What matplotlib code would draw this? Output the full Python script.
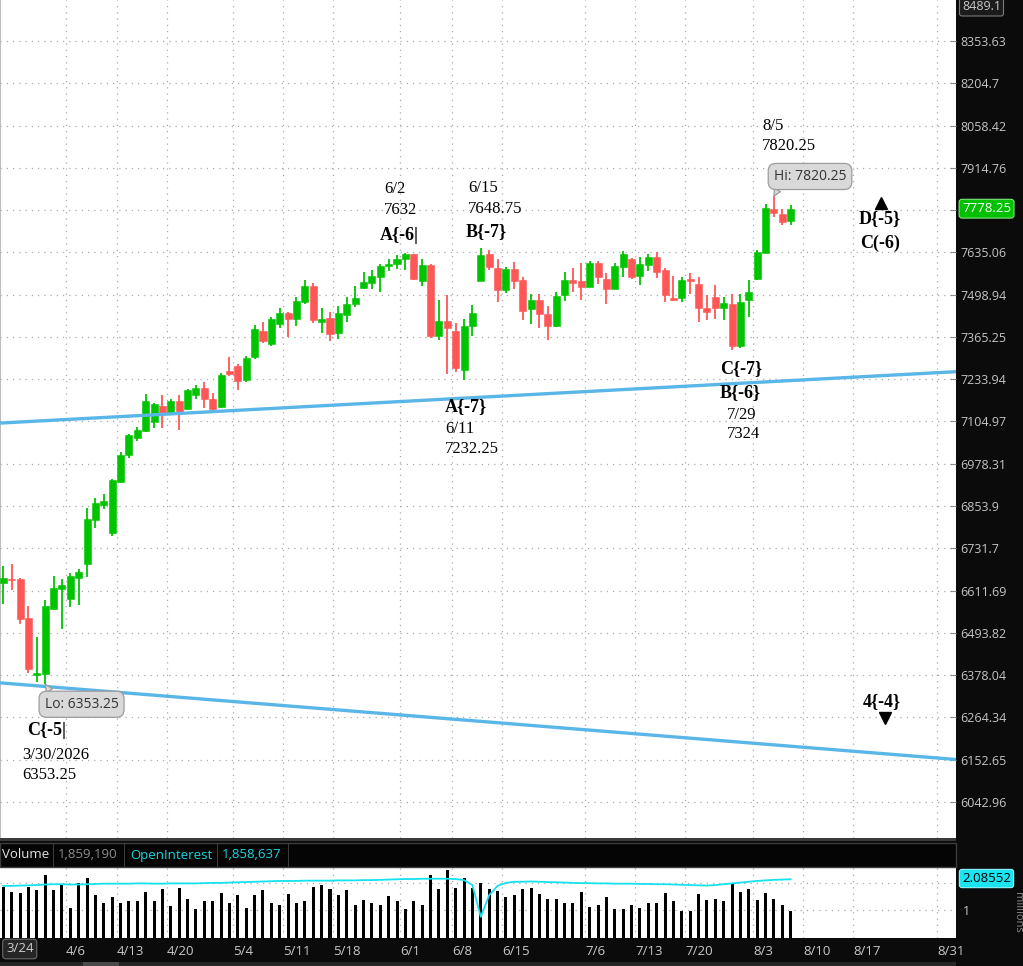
import numpy as np
import matplotlib
matplotlib.use('Agg')
import matplotlib.pyplot as plt
from matplotlib.patches import Rectangle
from matplotlib.ticker import FixedLocator, FixedFormatter, NullLocator

plt.rcParams['font.family'] = ['Open Sans', 'DejaVu Sans']

# daily candles (bar 0 = left edge)
opens = [6634, 6645, 6643, 6535, 6378, 6381, 6559, 6617, 6587, 6647,
         6687, 6812, 6858, 6776, 6924, 7003, 7056, 7076, 7103, 7152,
         7130, 7166, 7144, 7186, 7208, 7174, 7149, 7259, 7276, 7231,
         7301, 7383, 7342, 7407, 7439, 7421, 7476, 7527, 7411, 7426,
         7379, 7434, 7468, 7520, 7537, 7556, 7590, 7597, 7613, 7630,
         7543, 7594, 7368, 7416, 7383, 7262, 7399, 7543, 7629, 7583,
         7513, 7580, 7545, 7452, 7481, 7436, 7399, 7497, 7545, 7542,
         7524, 7599, 7548, 7518, 7588, 7612, 7559, 7594, 7619, 7578,
         7488, 7487, 7548, 7534, 7455, 7491, 7455, 7469, 7337, 7483,
         7548, 7634, 7776, 7760, 7739]
highs = [6680, 6687, 6646, 6568, 6482, 6584, 6652, 6645, 6662, 6673,
         6849, 6878, 6890, 6933, 7013, 7068, 7088, 7189, 7161, 7184,
         7174, 7184, 7205, 7215, 7226, 7191, 7254, 7303, 7281, 7305,
         7402, 7412, 7428, 7457, 7444, 7490, 7545, 7535, 7456, 7444,
         7462, 7492, 7527, 7573, 7578, 7597, 7615, 7628, 7632, 7631,
         7615, 7596, 7481, 7497, 7409, 7423, 7465, 7648.75, 7642, 7615,
         7588, 7603, 7554, 7500, 7500, 7462, 7508, 7573, 7583, 7601,
         7606, 7607, 7569, 7599, 7639, 7618, 7619, 7630, 7637, 7583,
         7558, 7556, 7569, 7554, 7499, 7531, 7490, 7502, 7502, 7545,
         7642, 7793, 7820.25, 7776, 7792]
lows = [6573, 6614, 6517, 6384, 6359, 6353.25, 6556, 6505, 6565, 6570,
        6650, 6791, 6846, 6766, 6921, 6994, 7045, 7072, 7086, 7086,
        7126, 7078, 7141, 7172, 7147, 7141, 7147, 7243, 7202, 7225,
        7295, 7347, 7338, 7392, 7365, 7399, 7468, 7409, 7376, 7353,
        7358, 7411, 7460, 7518, 7516, 7508, 7576, 7580, 7578, 7545,
        7527, 7362, 7357, 7249, 7256, 7232.25, 7368, 7541, 7578, 7474,
        7505, 7516, 7418, 7405, 7392, 7357, 7397, 7479, 7506, 7481,
        7522, 7532, 7470, 7516, 7556, 7548, 7531, 7576, 7551, 7474,
        7479, 7474, 7502, 7413, 7418, 7423, 7418, 7324, 7331, 7428,
        7545, 7632, 7752, 7726, 7726]
closes = [6647, 6640, 6533, 6395, 6384, 6568, 6620, 6626, 6652, 6664,
          6817, 6864, 6867, 6931, 7003, 7063, 7080, 7167, 7157, 7129,
          7167, 7133, 7200, 7208, 7174, 7144, 7248, 7249, 7229, 7300,
          7389, 7353, 7423, 7439, 7421, 7479, 7527, 7418, 7423, 7373,
          7439, 7469, 7489, 7538, 7558, 7591, 7597, 7612, 7629, 7548,
          7594, 7368, 7416, 7392, 7267, 7400, 7439, 7626, 7586, 7513,
          7580, 7543, 7448, 7481, 7437, 7399, 7495, 7545, 7537, 7524,
          7599, 7556, 7516, 7591, 7631, 7554, 7596, 7619, 7573, 7497,
          7481, 7545, 7543, 7455, 7444, 7455, 7473, 7336, 7476, 7508,
          7635, 7779, 7763, 7735, 7778.25]

# volume and open interest, millions
volume = [1.85, 1.67, 1.64, 1.85, 1.73, 2.28, 1.73, 1.92, 1.07, 1.98,
          2.16, 1.55, 1.25, 1.49, 1.25, 1.33, 1.33, 1.67, 1.33, 1.77,
          1.15, 1.82, 1.41, 1.03, 1.33, 1.33, 1.64, 1.25, 1.55, 1.07,
          1.55, 1.73, 1.25, 1.19, 1.59, 1.25, 1.33, 1.85, 1.94, 1.77,
          1.55, 1.73, 1.19, 1.37, 1.25, 1.19, 1.52, 1.33, 1.03, 1.33,
          1.19, 2.28, 1.77, 2.46, 1.82, 2.19, 1.82, 2.01, 1.77, 1.71,
          1.47, 1.55, 1.77, 1.82, 1.59, 1.41, 1.41, 1.25, 1.28, 1.67,
          1.13, 1.19, 1.47, 1.03, 1.03, 1.19, 1.07, 1.25, 1.25, 1.64,
          1.33, 0.98, 0.98, 1.59, 1.37, 1.41, 1.33, 1.95, 1.67, 1.77,
          1.37, 1.64, 1.41, 1.19, 0.98]
open_interest = [1.89, 1.89, 1.90, 1.91, 1.92, 1.94, 1.95, 1.95, 1.94, 1.94,
                 1.95, 1.96, 1.97, 1.97, 1.97, 1.97, 1.98, 1.98, 1.97, 1.97,
                 1.98, 1.98, 1.98, 1.98, 1.99, 2.00, 2.00, 2.01, 2.02, 2.03,
                 2.04, 2.05, 2.06, 2.07, 2.07, 2.07, 2.08, 2.08, 2.08, 2.08,
                 2.09, 2.09, 2.09, 2.10, 2.10, 2.11, 2.12, 2.13, 2.14, 2.14,
                 2.15, 2.15, 2.15, 2.15, 2.14, 2.10, 1.92, 0.76, 1.55, 1.89,
                 2.00, 2.04, 2.04, 2.05, 2.04, 2.03, 2.02, 2.01, 2.00, 1.99,
                 1.99, 1.98, 1.98, 1.97, 1.97, 1.97, 1.96, 1.96, 1.95, 1.95,
                 1.94, 1.93, 1.92, 1.91, 1.90, 1.92, 1.95, 1.98, 2.01, 2.04,
                 2.07, 2.09, 2.11, 2.12, 2.13]

price_ticks = [8353.63, 8204.7, 8058.42, 7914.76, 7773.6, 7635.06, 7498.94,
               7365.25, 7233.94, 7104.97, 6978.31, 6853.9, 6731.7, 6611.69,
               6493.82, 6378.04, 6264.34, 6152.65, 6042.96]
price_labels = ['8353.63', '8204.7', '8058.42', '7914.76', '', '7635.06',
                '7498.94', '7365.25', '7233.94', '7104.97', '6978.31', '6853.9',
                '6731.7', '6611.69', '6493.82', '6378.04', '6264.34', '6152.65',
                '6042.96']
date_labels = ['4/6', '4/13', '4/20', '5/4', '5/11', '5/18', '6/1', '6/8',
               '6/15', '7/6', '7/13', '7/20', '8/3', '8/10', '8/17', '8/31']
upper_trend = [7100, 7257]
lower_trend = [6357, 6153]

# layout (chart is 1023 x 966 px)
W, H = 1023, 966
GREEN = '#00c400'
RED = '#ff5656'
BLUE = '#5ab6e6'
GRID = '#a9a9a9'
XLIM = (-0.394, 113.73)
date_pos = [7.48, 13.57, 19.54, 27.42, 33.39, 39.36, 47.36, 53.56, 59.53,
            69.44, 75.41, 81.38, 89.5, 95.46, 101.43, 111.46]


def fx(px):
    return px / W


def fy(py):
    return 1 - py / H


fig = plt.figure(figsize=(W / 100, H / 100), dpi=100, facecolor='#0b0b0b')
ax = fig.add_axes([0, fy(838), fx(956), 838 / H])
vax = fig.add_axes([0, fy(937.7), fx(956), (937.7 - 867.5) / H])

######## price panel
x = np.arange(len(opens))
o = np.array(opens, float)
c = np.array(closes, float)
col = np.where(c >= o, GREEN, RED)
body_lo = np.minimum(o, c)
body_h = np.maximum(np.abs(c - o), body_lo * 0.0005)

ax.set_yscale('log')
ax.set_xlim(*XLIM)
ax.set_ylim(5950.8, 8500.6)
ax.vlines(x, lows, highs, colors=col, lw=1.3, zorder=3)
ax.bar(x, body_h, bottom=body_lo, width=0.84, color=col, edgecolor=col,
       lw=0.4, zorder=4)

ax.plot(XLIM, upper_trend, color=BLUE, lw=2.4, zorder=5, solid_capstyle='butt')
ax.plot(XLIM, lower_trend, color=BLUE, lw=2.4, zorder=5, solid_capstyle='butt')

ax.yaxis.set_major_locator(FixedLocator(price_ticks))
ax.yaxis.set_major_formatter(FixedFormatter(price_labels))
ax.yaxis.set_minor_locator(NullLocator())
ax.yaxis.tick_right()
ax.tick_params(axis='y', direction='in', length=4, color='#8a8a8a',
               labelcolor='#c4c4c4', labelsize=9, pad=3)
ax.set_xticks(date_pos)
ax.tick_params(axis='x', length=0, labelbottom=False)
ax.grid(True, color=GRID, linestyle=(0, (1, 4)), lw=0.9)
for s in ax.spines.values():
    s.set_visible(False)
ax.spines['left'].set_visible(True)
ax.spines['left'].set_color('#b0b0b0')
ax.spines['left'].set_linewidth(1.2)
ax.set_facecolor('white')

# wave labels
serif = 'Liberation Serif'
notes = [
    ('6/2', 0.4017, 0.7745, 'normal'), ('7632', 0.4017, 0.7494, 'normal'),
    ('A{-6|', 0.3975, 0.7184, 'bold'),
    ('6/15', 0.4895, 0.7757, 'normal'), ('7648.75', 0.4895, 0.7506, 'normal'),
    ('B{-7}', 0.4874, 0.7232, 'bold'),
    ('8/5', 0.7971, 0.8496, 'normal'), ('7820.25', 0.7971, 0.8258, 'normal'),
    ('D{-5}', 0.8985, 0.7387, 'bold'), ('C(-6)', 0.8996, 0.7100, 'bold'),
    ('4{-4}', 0.9027, 0.1623, 'bold'),
    ('C{-7}', 0.7531, 0.5597, 'bold'), ('B{-6}', 0.7531, 0.5310, 'bold'),
    ('7/29', 0.7605, 0.5048, 'normal'), ('7324', 0.7605, 0.4821, 'normal'),
    ('A{-7}', 0.4655, 0.5143, 'bold'), ('6/11', 0.4655, 0.4881, 'normal'),
    ('7232.25', 0.4655, 0.4642, 'normal'),
    ('C{-5|', 0.0282, 0.1277, 'bold'), ('3/30/2026', 0.0230, 0.0990, 'normal'),
    ('6353.25', 0.0230, 0.0752, 'normal'),
]
for txt, tx, ty, wt in notes:
    ax.text(tx, ty, txt, transform=ax.transAxes, family=serif, weight=wt,
            fontsize=13 if wt == 'bold' else 12, color='black',
            ha='left', va='center', zorder=7)

ax.plot([0.9215], [0.7578], marker='^', ms=8, color='black',
        transform=ax.transAxes, zorder=7)
ax.plot([0.9257], [0.1432], marker='v', ms=8, color='black',
        transform=ax.transAxes, zorder=7)

# hi / lo bubbles
bubble = dict(boxstyle='round,pad=0.4,rounding_size=0.55', fc='#d9d9d9',
              ec='#9c9c9c', lw=0.9)
ax.annotate('Lo: 6353.25', xy=(5, 6353.25), xytext=(0.0853, 0.1596),
            textcoords='axes fraction', ha='center', va='center',
            fontsize=10, color='#333333', bbox=bubble, zorder=8,
            arrowprops=dict(arrowstyle='wedge,tail_width=0.5', fc='#d9d9d9',
                            ec='#9c9c9c', lw=0.9, relpos=(0.12, 1.0),
                            shrinkA=0, shrinkB=0))
ax.annotate('Hi: 7820.25', xy=(92, 7820.25), xytext=(0.8473, 0.7894),
            textcoords='axes fraction', ha='center', va='center',
            fontsize=10, color='#333333', bbox=bubble, zorder=8,
            arrowprops=dict(arrowstyle='wedge,tail_width=0.5', fc='#d9d9d9',
                            ec='#9c9c9c', lw=0.9, relpos=(0.1, 0.0),
                            shrinkA=0, shrinkB=0))

# price axis boxes
fig.text(fx(962), fy(7), '8489.1', fontsize=9, color='#c8c8c8', va='center',
         bbox=dict(boxstyle='round,pad=0.2', fc='#1b1b1b', ec='#7a7a7a', lw=0.8))
fig.text(fx(962), fy(208.7), '7778.25', fontsize=9.5, color='white',
         va='center', bbox=dict(boxstyle='round,pad=0.22', fc='#00c000',
                                ec='#7be87b', lw=0.8))

######## volume panel
vax.set_xlim(*XLIM)
vax.set_ylim(0, 2.56)
vax.bar(x, volume, width=0.36, color='black', zorder=3)
vax.plot(x, open_interest, color='#14e2ee', lw=1.3, zorder=4)
for lvl in (1, 2):
    vax.axhline(lvl, color=GRID, linestyle=(0, (1, 4)), lw=0.9, zorder=1)
vax.set_xticks(date_pos)
vax.set_xticklabels(date_labels)
vax.tick_params(axis='x', length=0, pad=5, labelsize=9.5, labelcolor='#c8c8c8')
for lbl in vax.get_xticklabels():
    lbl.set_horizontalalignment('left')
vax.grid(True, axis='x', color=GRID, linestyle=(0, (1, 4)), lw=0.9)
vax.yaxis.tick_right()
vax.set_yticks([1])
vax.set_yticklabels(['1'])
vax.tick_params(axis='y', length=0, pad=5, labelsize=9, labelcolor='#c4c4c4')
for s in vax.spines.values():
    s.set_visible(False)
vax.set_facecolor('white')

fig.text(fx(962), fy(878.5), '2.08552', fontsize=9.5, color='black',
         va='center', bbox=dict(boxstyle='round,pad=0.2', fc='#19e4ef',
                                ec='#8ff4f8', lw=0.8))
fig.text(fx(1018), fy(912), 'millions', fontsize=8, color='#8a8a8a',
         rotation=270, ha='center', va='center')

# header strip between panels
fig.add_artist(Rectangle((0, fy(841)), fx(956), 3 / H, transform=fig.transFigure,
                         fc='#3b3b3b', ec='none'))
fig.add_artist(Rectangle((0, fy(867)), fx(956), 24 / H, transform=fig.transFigure,
                         fc='#050505', ec='#3c3c3c', lw=1))
for sx in (53, 124, 217, 288):
    fig.add_artist(Rectangle((fx(sx), fy(867)), 0.5 / W, 24 / H,
                             transform=fig.transFigure, fc='#3c3c3c', ec='none'))
header = [('Volume', 2, '#e4e4e4'), ('1,859,190', 58, '#8c8c8c'),
          ('OpenInterest', 130, '#19d6de'), ('1,858,637', 222, '#19d6de')]
for txt, hx, hc in header:
    fig.text(fx(hx), fy(855), txt, fontsize=9.5, color=hc, va='center')

# date axis start box and scroll strip
fig.text(fx(6), fy(949), '3/24', fontsize=9.5, color='#d0d0d0', va='center',
         bbox=dict(boxstyle='round,pad=0.25', fc='#262626', ec='#6a6a6a', lw=0.8))
fig.add_artist(Rectangle((0, 0), fx(956), 4 / H, transform=fig.transFigure,
                         fc='#262626', ec='none'))
fig.add_artist(Rectangle((fx(83), 0), 36 / W, 4 / H, transform=fig.transFigure,
                         fc='#4a4a4a', ec='none'))

fig.savefig('out.png', dpi=100, facecolor=fig.get_facecolor())
